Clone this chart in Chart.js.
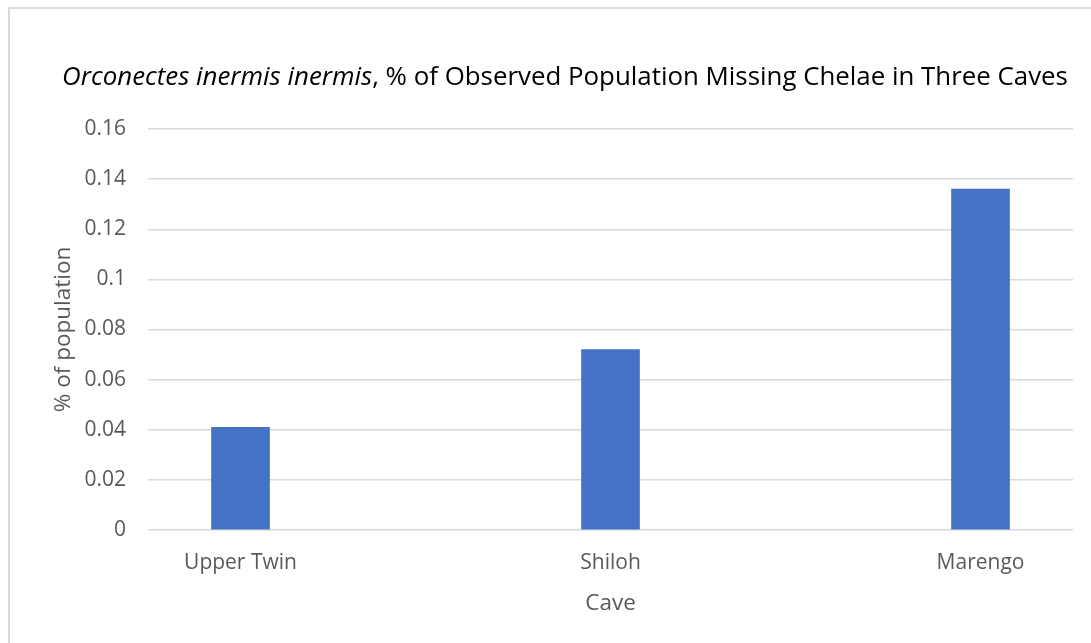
<!DOCTYPE html>
<html>
<head>
    <title>Orconectes inermis inermis - Missing Chelae</title>
    <script src="https://cdn.jsdelivr.net/npm/chart.js"></script>
    <style>
        body {
            margin: 0;
            background: #ffffff;
            overflow: hidden;
        }
        .frame {
            position: absolute;
            left: 8px;
            top: 7px;
            width: 1200px;
            height: 800px;
            border: 2px solid #d9d9d9;
        }
        .chart-box {
            position: absolute;
            left: 0;
            top: 0;
            width: 1091px;
            height: 643px;
        }
    </style>
</head>
<body>
    <div class="frame"></div>
    <div class="chart-box">
        <canvas id="chelaeChart"></canvas>
    </div>

    <script>
        const caves = ['Upper Twin', 'Shiloh', 'Marengo'];
        const missingShare = [0.041, 0.072, 0.136];
        const yTicks = [0, 0.02, 0.04, 0.06, 0.08, 0.1, 0.12, 0.14, 0.16];
        const titleItalic = 'Orconectes inermis inermis';
        const titleRest = ', % of Observed Population Missing Chelae in Three Caves';

        const FONT = "'Open Sans', sans-serif";
        const GREY = '#595959';

        // title with an italic species name, drawn above the plot
        const mixedTitle = {
            id: 'mixedTitle',
            afterDraw(chart) {
                const ctx = chart.ctx;
                const targetWidth = 1006;
                let size = 24;
                ctx.save();
                ctx.font = 'italic ' + size + 'px ' + FONT;
                let w1 = ctx.measureText(titleItalic).width;
                ctx.font = size + 'px ' + FONT;
                let w2 = ctx.measureText(titleRest).width;
                size = size * targetWidth / (w1 + w2);
                ctx.font = 'italic ' + size + 'px ' + FONT;
                w1 = ctx.measureText(titleItalic).width;
                ctx.font = size + 'px ' + FONT;
                w2 = ctx.measureText(titleRest).width;
                const x0 = 565 - (w1 + w2) / 2;
                ctx.fillStyle = '#000000';
                ctx.textBaseline = 'middle';
                ctx.textAlign = 'left';
                ctx.font = 'italic ' + size + 'px ' + FONT;
                ctx.fillText(titleItalic, x0, 78);
                ctx.font = size + 'px ' + FONT;
                ctx.fillText(titleRest, x0 + w1, 78);
                ctx.restore();
            }
        };

        const ctx = document.getElementById('chelaeChart').getContext('2d');
        new Chart(ctx, {
            type: 'bar',
            data: {
                datasets: [{
                    label: '% of population',
                    data: missingShare.map((v, i) => ({ x: i, y: v })),
                    backgroundColor: '#4472C4',
                    borderWidth: 0,
                    barThickness: 58
                }]
            },
            options: {
                responsive: true,
                maintainAspectRatio: false,
                animation: false,
                layout: {
                    padding: { top: 129, left: 46, right: 18, bottom: 22 }
                },
                plugins: {
                    legend: { display: false },
                    tooltip: { enabled: false },
                    title: { display: false }
                },
                scales: {
                    x: {
                        type: 'linear',
                        offset: false,
                        min: -0.25,
                        max: caves.length - 0.75,
                        afterBuildTicks(scale) {
                            scale.ticks = caves.map((c, i) => ({ value: i }));
                        },
                        afterFit(scale) {
                            scale.height = 91;
                        },
                        grid: { display: false, drawTicks: false, offset: false },
                        border: { display: false },
                        ticks: {
                            autoSkip: false,
                            maxRotation: 0,
                            padding: 20,
                            color: GREY,
                            font: { family: FONT, size: 21 },
                            callback: (v) => caves[v]
                        },
                        title: {
                            display: true,
                            text: 'Cave',
                            color: GREY,
                            font: { family: FONT, size: 22.5 },
                            padding: { top: 4, bottom: 4 }
                        }
                    },
                    y: {
                        min: 0,
                        max: 0.16,
                        afterBuildTicks(scale) {
                            scale.ticks = yTicks.map(v => ({ value: v }));
                        },
                        afterFit(scale) {
                            scale.width = 102;
                        },
                        grid: {
                            color: '#d9d9d9',
                            lineWidth: 1.5,
                            drawTicks: false
                        },
                        border: { display: false },
                        ticks: {
                            padding: 22,
                            color: GREY,
                            font: { family: FONT, size: 21 },
                            callback: (v) => String(Number(v.toFixed(2)))
                        },
                        title: {
                            display: true,
                            text: '% of population',
                            color: GREY,
                            font: { family: FONT, size: 22.5 },
                            padding: { top: 4, bottom: 4 }
                        }
                    }
                }
            },
            plugins: [mixedTitle]
        });
    </script>
</body>
</html>
